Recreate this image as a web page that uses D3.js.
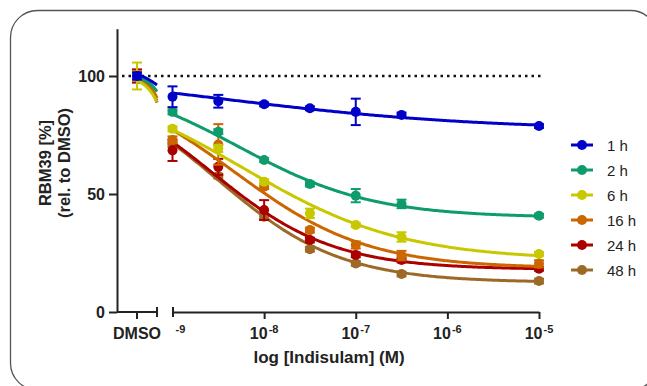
<!DOCTYPE html>
<html>
<head>
<meta charset="utf-8">
<script src="https://cdn.jsdelivr.net/npm/d3@7"></script>
<style>
  html, body { margin: 0; padding: 0; background: #fff; }
  svg { display: block; font-family: "Liberation Sans", Arial, sans-serif; }
</style>
</head>
<body>
<svg id="chart" width="647" height="386"></svg>
<script>
// ---------------- data ----------------
const seriesNames = ["1 h", "2 h", "6 h", "16 h", "24 h", "48 h"];
const seriesColors = ["#0000c8", "#0e9c6c", "#c8c800", "#cc6600", "#aa0000", "#9c6a26"];
const concentrations = [1e-9, 3.16e-9, 1e-8, 3.16e-8, 1e-7, 3.16e-7, 1e-5];
const dmsoLabel = "DMSO";
const dmsoValues = [100, 100, 100, 100, 100, 100];
const dmsoErrors = [1.5, 1, 5.7, 2, 2.8, 1];

const values1h  = [91.2, 89.3, 88.0, 86.3, 84.8, 83.5, 78.8];
const values2h  = [84.8, 76.4, 64.4, 54.2, 49.3, 45.8, 40.8];
const values6h  = [77.6, 69.3, 55.2, 41.8, 36.9, 31.8, 24.6];
const values16h = [72.9, 71.0, 53.1, 34.7, 28.4, 23.9, 20.4];
const values24h = [68.5, 61.5, 43.2, 30.5, 24.2, 22.0, 18.3];
const values48h = [71.0, 57.6, 40.4, 26.6, 20.6, 16.1, 13.1];

const errors1h  = [4.4, 2.7, 0.8, 0.8, 5.6, 1.0, 0.8];
const errors2h  = [1.0, 1.0, 0.8, 1.0, 2.8, 1.8, 0.8];
const errors6h  = [1.0, 1.5, 1.0, 2.0, 0.8, 2.0, 0.8];
const errors16h = [1.5, 8.6, 1.0, 1.0, 1.5, 2.0, 1.5];
const errors24h = [4.5, 3.4, 4.2, 1.0, 1.0, 1.0, 0.8];
const errors48h = [1.0, 1.0, 1.0, 1.0, 1.0, 1.0, 1.0];

// four-parameter logistic fit parameters
const fitTop     = [104, 100, 100, 100, 100, 100];
const fitBottom  = [77, 40, 22, 18.5, 18, 12.5];
const fitLogIC50 = [-8.5, -8.276, -8.228, -8.32, -8.564, -8.512];
const fitHill    = [0.3, 0.595, 0.499, 0.6, 0.656, 0.644];

const yTicks = [0, 50, 100];
const xTickExponents = [-9, -8, -7, -6, -5];
const yTitleLines = ["RBM39 [%]", "(rel. to DMSO)"];
const xTitle = "log [Indisulam] (M)";

// notional position of DMSO on the left axis segment (log10 units)
const dmsoLog = -11.4;
const seg1EndLog = -9.8;

const allValues = [values1h, values2h, values6h, values16h, values24h, values48h];
const allErrors = [errors1h, errors2h, errors6h, errors16h, errors24h, errors48h];

// ---------------- layout ----------------
const svg = d3.select("#chart");
const axisColor = "#222";

svg.append("rect")
  .attr("x", 10.5).attr("y", 10.5)
  .attr("width", 647).attr("height", 379.5)
  .attr("rx", 27).attr("ry", 27)
  .attr("fill", "none").attr("stroke", "#555").attr("stroke-width", 1.3);

const y = d3.scaleLinear().domain([0, 120]).range([312, 28.8]);
const xSeg1 = d3.scaleLinear().domain([-13, seg1EndLog]).range([117, 157]);
const xSeg2 = d3.scaleLog().domain([1e-9, 1e-5]).range([172.5, 539]);

// ---------------- axes ----------------
const yAxis = svg.append("g")
  .attr("transform", "translate(117,0)")
  .call(d3.axisLeft(y).tickValues(yTicks).tickSize(8).tickSizeOuter(0).tickPadding(4));
yAxis.select(".domain").attr("stroke", axisColor).attr("stroke-width", 2);
yAxis.selectAll(".tick line").attr("stroke", axisColor).attr("stroke-width", 2);
yAxis.selectAll(".tick text")
  .attr("font-size", 16).attr("font-weight", "bold").attr("fill", axisColor)
  .attr("font-family", "Liberation Sans, Arial, sans-serif");

// segment 1 (DMSO)
const seg1 = svg.append("g");
seg1.append("line")
  .attr("x1", xSeg1.range()[0]).attr("x2", xSeg1.range()[1])
  .attr("y1", y(0)).attr("y2", y(0))
  .attr("stroke", axisColor).attr("stroke-width", 2);
seg1.append("line")
  .attr("x1", xSeg1(dmsoLog)).attr("x2", xSeg1(dmsoLog))
  .attr("y1", y(0)).attr("y2", y(0) + 7)
  .attr("stroke", axisColor).attr("stroke-width", 2);
seg1.append("line")
  .attr("x1", xSeg1(seg1EndLog)).attr("x2", xSeg1(seg1EndLog))
  .attr("y1", y(0) - 5).attr("y2", y(0) + 5)
  .attr("stroke", axisColor).attr("stroke-width", 2);
seg1.append("text")
  .attr("x", xSeg1(dmsoLog)).attr("y", y(0) + 27)
  .attr("text-anchor", "middle")
  .attr("font-size", 16).attr("font-weight", "bold").attr("fill", axisColor)
  .text(dmsoLabel);

// segment 2 (log concentrations)
const xAxis = svg.append("g")
  .attr("transform", `translate(0,${y(0)})`)
  .call(d3.axisBottom(xSeg2).tickValues(xTickExponents.map(e => Math.pow(10, e)))
    .tickSize(7).tickSizeOuter(0).tickFormat(""));
xAxis.select(".domain").attr("stroke", axisColor).attr("stroke-width", 2);
xAxis.selectAll(".tick line").attr("stroke", axisColor).attr("stroke-width", 2)
  .attr("y1", (d, i) => i === 0 ? -5 : 0)
  .attr("y2", (d, i) => i === 0 ? 5 : 7);

xTickExponents.forEach((e, i) => {
  const xp = xSeg2(Math.pow(10, e));
  const t = svg.append("text")
    .attr("y", y(0) + 27)
    .attr("font-size", 16).attr("font-weight", "bold").attr("fill", axisColor);
  if (i === 0) {
    t.attr("x", xp + 3).attr("text-anchor", "start")
      .append("tspan").attr("font-size", 11).attr("dy", -6).text(String(e));
  } else {
    t.attr("x", xp).attr("text-anchor", "middle");
    t.append("tspan").text("10");
    t.append("tspan").attr("font-size", 11).attr("dy", -6).attr("dx", 1).text(String(e));
  }
});

// axis titles
const yTitle = svg.append("text")
  .attr("transform", `translate(51,163) rotate(-90)`)
  .attr("text-anchor", "middle")
  .attr("font-size", 16.5).attr("font-weight", "bold").attr("fill", axisColor);
yTitleLines.forEach((line, i) => {
  yTitle.append("tspan").attr("x", 0).attr("dy", i === 0 ? 0 : 19).text(line);
});

svg.append("text")
  .attr("x", 329).attr("y", 363)
  .attr("text-anchor", "middle")
  .attr("font-size", 17).attr("font-weight", "bold").attr("fill", axisColor)
  .text(xTitle);

// dotted 100 % reference line
svg.append("line")
  .attr("x1", 122).attr("x2", xSeg2(1e-5) + 2)
  .attr("y1", y(100)).attr("y2", y(100))
  .attr("stroke", "#111").attr("stroke-width", 2.5)
  .attr("stroke-dasharray", "2.5 4");

// ---------------- series ----------------
const fourPL = (i, lx) => fitBottom[i] + (fitTop[i] - fitBottom[i]) /
  (1 + Math.pow(10, (lx - fitLogIC50[i]) * fitHill[i]));

const plot = svg.append("g");

for (let i = seriesNames.length - 1; i >= 0; i--) {
  const g = plot.append("g");
  const col = seriesColors[i];

  // fitted curve, DMSO segment
  const n = 60;
  const s1 = d3.range(n + 1).map(k => dmsoLog + (seg1EndLog - dmsoLog) * k / n);
  g.append("path")
    .attr("d", d3.line().x(lx => xSeg1(lx)).y(lx => y(fourPL(i, lx)))(s1))
    .attr("fill", "none").attr("stroke", col).attr("stroke-width", 3);

  // fitted curve, concentration segment
  const lo = Math.log10(xSeg2.domain()[0]), hi = Math.log10(xSeg2.domain()[1]);
  const s2 = d3.range(201).map(k => lo + (hi - lo) * k / 200);
  g.append("path")
    .attr("d", d3.line().x(lx => xSeg2(Math.pow(10, lx))).y(lx => y(fourPL(i, lx)))(s2))
    .attr("fill", "none").attr("stroke", col).attr("stroke-width", 3);

  // points with error bars
  const pts = [{ x: xSeg1(dmsoLog), v: dmsoValues[i], e: dmsoErrors[i] }]
    .concat(concentrations.map((c, k) => ({ x: xSeg2(c), v: allValues[i][k], e: allErrors[i][k] })));

  pts.forEach(p => {
    g.append("line")
      .attr("x1", p.x).attr("x2", p.x)
      .attr("y1", y(p.v - p.e)).attr("y2", y(p.v + p.e))
      .attr("stroke", col).attr("stroke-width", 2);
    [p.v - p.e, p.v + p.e].forEach(cv => {
      g.append("line")
        .attr("x1", p.x - 5).attr("x2", p.x + 5)
        .attr("y1", y(cv)).attr("y2", y(cv))
        .attr("stroke", col).attr("stroke-width", 2);
    });
    g.append("circle")
      .attr("cx", p.x).attr("cy", y(p.v)).attr("r", 5)
      .attr("fill", col);
  });
}

// ---------------- legend ----------------
const legend = svg.append("g");
seriesNames.forEach((name, i) => {
  const ly = 145 + i * 25;
  legend.append("line")
    .attr("x1", 571).attr("x2", 593).attr("y1", ly).attr("y2", ly)
    .attr("stroke", seriesColors[i]).attr("stroke-width", 3);
  legend.append("circle")
    .attr("cx", 582).attr("cy", ly).attr("r", 5).attr("fill", seriesColors[i]);
  legend.append("text")
    .attr("x", 607).attr("y", ly + 5.5)
    .attr("font-size", 15).attr("fill", "#222")
    .text(name);
});
</script>
</body>
</html>
